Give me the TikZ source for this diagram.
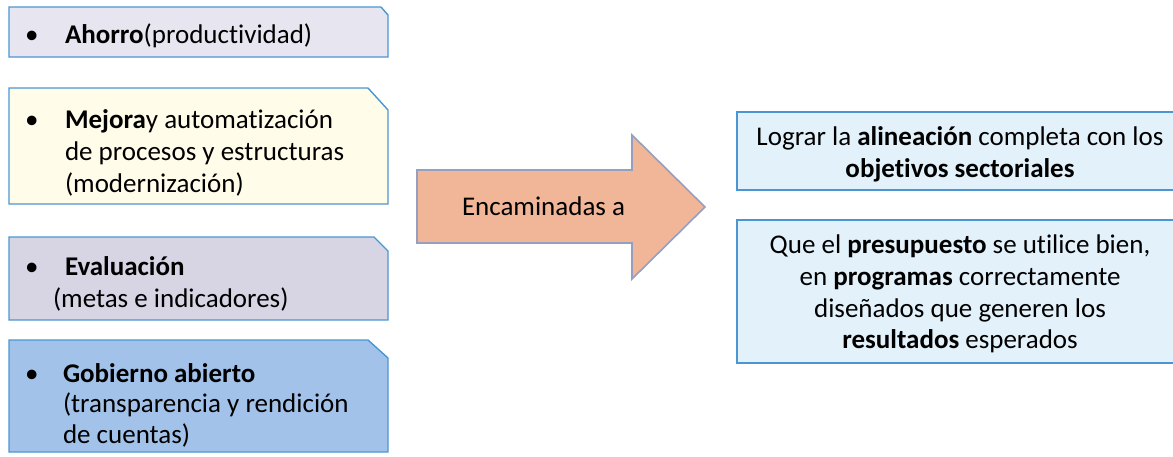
\documentclass[tikz,border=0pt]{standalone}
\usepackage{fontspec}
\setmainfont{Carlito}[Ligatures={NoCommon,NoRare,NoContextual}]
\definecolor{boxline}{RGB}{75,150,210}
\definecolor{fillA}{RGB}{231,230,240}
\definecolor{fillB}{RGB}{255,252,234}
\definecolor{fillC}{RGB}{215,212,227}
\definecolor{fillD}{RGB}{162,194,233}
\definecolor{fillR}{RGB}{227,241,250}
\definecolor{arrfill}{RGB}{241,182,152}
\definecolor{arrline}{RGB}{150,160,190}
\tikzset{
  boxedge/.style={draw=boxline, line width=1.4pt, line join=miter},
  rightbox/.style={rectangle, draw=boxline, line width=1.4pt, fill=fillR,
    minimum width=453pt, inner sep=0pt, outer sep=0pt},
  txt/.style={inner sep=0pt, outer sep=0pt, anchor=base west,
    font=\fontsize{27}{32}\selectfont},
  ctxt/.style={txt, anchor=base},
}
\begin{document}
\begin{tikzpicture}[x=1pt,y=-1pt]
\useasboundingbox (0,0) rectangle (1173,456);
% left boxes (snipped top-right corner)
\draw[boxedge, fill=fillA] (9,7) -- (381,7) -- (388,15) -- (388,57) -- (9,57) -- cycle;
\draw[boxedge, fill=fillB] (9,88) -- (368,88) -- (388,110) -- (388,204) -- (9,204) -- cycle;
\draw[boxedge, fill=fillC] (9,237) -- (374,237) -- (388,251) -- (388,320) -- (9,320) -- cycle;
\draw[boxedge, fill=fillD] (9,340) -- (368,340) -- (388,358) -- (388,452) -- (9,452) -- cycle;
% texts in left boxes
\node[txt] (b1u) at (25,43) {•};
\node[txt] (b1a) at (65,43) {\textbf{Ahorro}(productividad)};
\node[txt] (b2u) at (25,128) {•};
\node[txt] (b2a) at (65,128) {\textbf{Mejora}y automatización};
\node[txt] (b2b) at (65,160) {de procesos y estructuras};
\node[txt] (b2c) at (65,192) {(modernización)};
\node[txt] (b3u) at (25,275) {•};
\node[txt] (b3a) at (65,275) {\textbf{Evaluación}};
\node[txt] (b3b) at (53,307) {(metas e indicadores)};
\node[txt] (b4u) at (25,382) {•};
\node[txt] (b4a) at (63,382) {\textbf{Gobierno abierto}};
\node[txt] (b4b) at (63,412) {(transparencia y rendición};
\node[txt] (b4c) at (63,443) {de cuentas)};
% arrow
\draw[fill=arrfill, draw=arrline, line width=1.6pt, line join=miter]
  (417,170) -- (632,170) -- (632,135) -- (705,207) -- (632,279) -- (632,243) -- (417,243) -- cycle;
\node[txt] (arrt) at (462,215) {Encaminadas a};
% right boxes
\node[rightbox, minimum height=78pt] (r1) at (963.5,151) {};
\node[rightbox, minimum height=143pt] (r2) at (963.5,291.5) {};
\node[ctxt] (r1a) at (960,145) {Lograr la \textbf{alineación} completa con los};
\node[ctxt] (r1b) at (960,177) {\textbf{objetivos sectoriales}};
\node[ctxt] (r2a) at (960,253) {Que el \textbf{presupuesto} se utilice bien,};
\node[ctxt] (r2b) at (960,285) {en \textbf{programas} correctamente};
\node[ctxt] (r2c) at (960,317) {diseñados que generen los};
\node[ctxt] (r2d) at (960,348) {\textbf{resultados} esperados};
\end{tikzpicture}
\end{document}
